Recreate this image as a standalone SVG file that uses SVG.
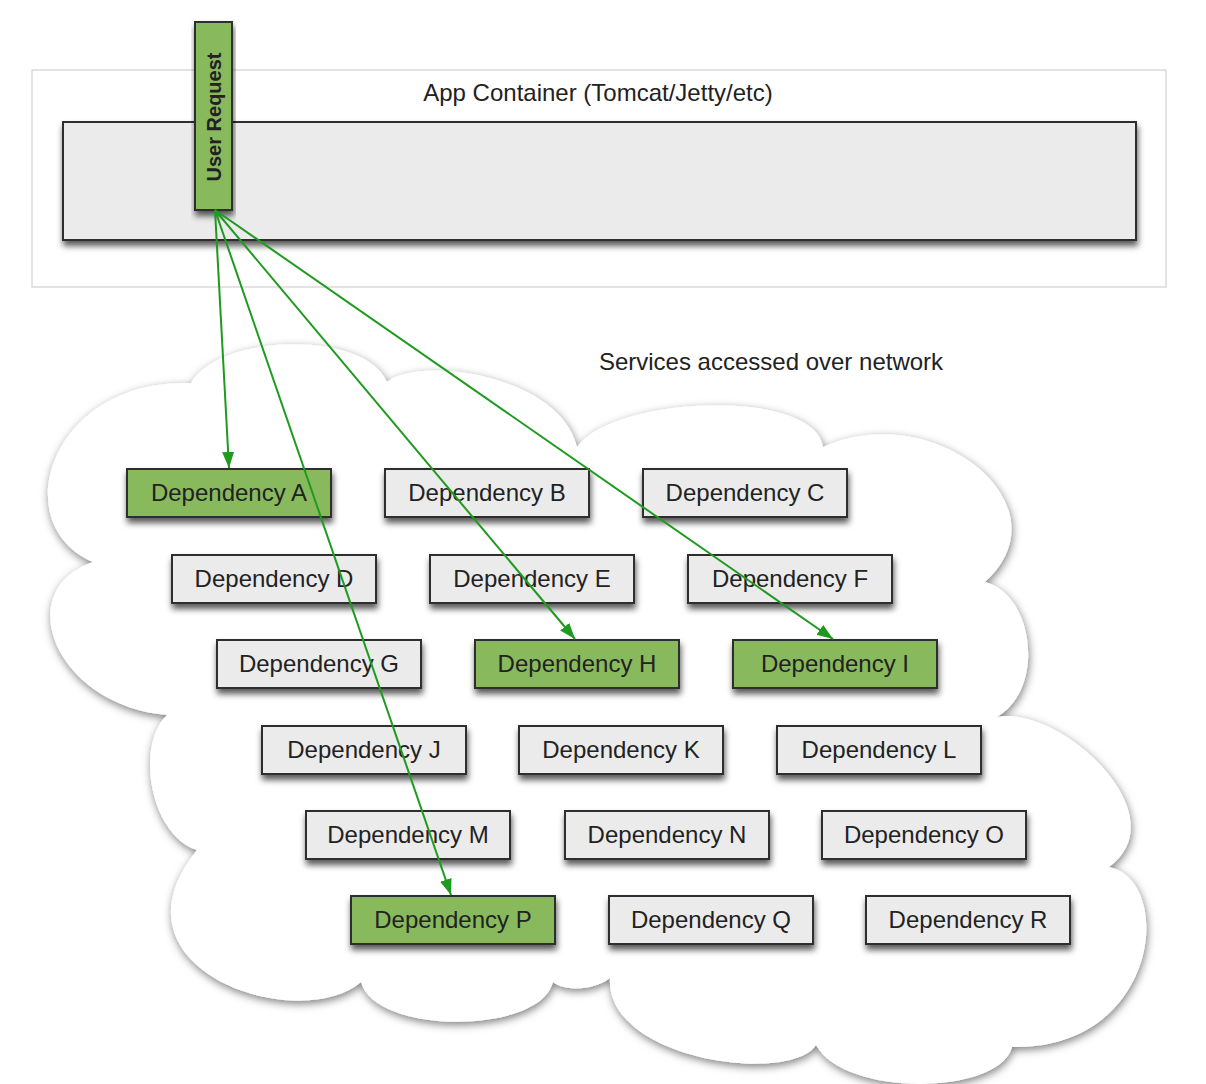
<svg xmlns="http://www.w3.org/2000/svg" width="1206" height="1084" viewBox="0 0 1206 1084">
<defs>
<style>
.lbl{font-family:"Liberation Sans",Arial,sans-serif;font-size:24px;fill:#222;}
.dep{fill:#ebebeb;stroke:#2e2e2e;stroke-width:2;filter:url(#sh);}
.hot{fill:#88b95d;stroke:#2e2e2e;stroke-width:2;filter:url(#sh);}
.dt{font-family:"Liberation Sans",Arial,sans-serif;font-size:24px;fill:#222;text-anchor:middle;}
.con{stroke:#1e9b1e;stroke-width:2;fill:none;marker-end:url(#ah);}
</style>
<filter id="sh" x="-10%" y="-30%" width="120%" height="180%">
<feDropShadow dx="1" dy="5" stdDeviation="3" flood-color="#000" flood-opacity="0.65"/>
</filter>
<filter id="csh" x="-10%" y="-10%" width="120%" height="120%">
<feDropShadow dx="1" dy="3" stdDeviation="4.5" flood-color="#000" flood-opacity="0.5"/>
</filter>
<marker id="ah" markerUnits="userSpaceOnUse" markerWidth="18" markerHeight="14" refX="16" refY="7" orient="auto">
<path d="M0,1 L16,7 L0,13 Z" fill="#1e9b1e"/>
</marker>
</defs>
<rect width="1206" height="1084" fill="#fff"/>

<g id="app-container">
<rect x="32" y="70" width="1134" height="217" fill="#fff" stroke="#dadada" stroke-width="1.5"/>
<text class="lbl" x="598" y="101" text-anchor="middle">App Container (Tomcat/Jetty/etc)</text>
</g>
<g id="container-body">
<rect x="63" y="122" width="1073" height="118" fill="#ebebeb" stroke="#2e2e2e" stroke-width="2" filter="url(#sh)"/>
</g>
<g id="user-request">
<rect x="195" y="22" width="37" height="188" class="hot"/>
<text transform="translate(221,117) rotate(-90)" text-anchor="middle" font-family="Liberation Sans, Arial, sans-serif" font-size="20" font-weight="bold" fill="#222">User Request</text>
</g>

<g id="network-cloud">
<path filter="url(#csh)" fill="#fff" d="M 191 383 C 220 333 365 330 387 382 C 420 355 560 375 577 447 C 615 395 815 388 823 447 C 933 397 1070 505 985 582 C 1035 595 1045 690 997 717 C 1060 705 1180 815 1109 867 C 1175 880 1160 1050 1012 1047 C 1000 1095 845 1098 816 1045 C 790 1085 605 1060 610 978 C 595 990 565 992 553 982 C 540 1035 375 1035 361 982 C 300 1035 100 970 197 850 C 150 835 135 745 167 715 C 55 705 10 590 93 562 C 5 525 50 378 191 383 Z"/>
<text class="lbl" x="771" y="370" text-anchor="middle">Services accessed over network</text>
</g>

<g id="dep-a"><rect class="hot" x="127" y="469" width="204" height="48"/><text class="dt" x="229" y="501">Dependency A</text></g>
<g id="dep-b"><rect class="dep" x="385" y="469" width="204" height="48"/><text class="dt" x="487" y="501">Dependency B</text></g>
<g id="dep-c"><rect class="dep" x="643" y="469" width="204" height="48"/><text class="dt" x="745" y="501">Dependency C</text></g>

<g id="dep-d"><rect class="dep" x="172" y="555" width="204" height="48"/><text class="dt" x="274" y="587">Dependency D</text></g>
<g id="dep-e"><rect class="dep" x="430" y="555" width="204" height="48"/><text class="dt" x="532" y="587">Dependency E</text></g>
<g id="dep-f"><rect class="dep" x="688" y="555" width="204" height="48"/><text class="dt" x="790" y="587">Dependency F</text></g>

<g id="dep-g"><rect class="dep" x="217" y="640" width="204" height="48"/><text class="dt" x="319" y="672">Dependency G</text></g>
<g id="dep-h"><rect class="hot" x="475" y="640" width="204" height="48"/><text class="dt" x="577" y="672">Dependency H</text></g>
<g id="dep-i"><rect class="hot" x="733" y="640" width="204" height="48"/><text class="dt" x="835" y="672">Dependency I</text></g>

<g id="dep-j"><rect class="dep" x="262" y="726" width="204" height="48"/><text class="dt" x="364" y="758">Dependency J</text></g>
<g id="dep-k"><rect class="dep" x="519" y="726" width="204" height="48"/><text class="dt" x="621" y="758">Dependency K</text></g>
<g id="dep-l"><rect class="dep" x="777" y="726" width="204" height="48"/><text class="dt" x="879" y="758">Dependency L</text></g>

<g id="dep-m"><rect class="dep" x="306" y="811" width="204" height="48"/><text class="dt" x="408" y="843">Dependency M</text></g>
<g id="dep-n"><rect class="dep" x="565" y="811" width="204" height="48"/><text class="dt" x="667" y="843">Dependency N</text></g>
<g id="dep-o"><rect class="dep" x="822" y="811" width="204" height="48"/><text class="dt" x="924" y="843">Dependency O</text></g>

<g id="dep-p"><rect class="hot" x="351" y="896" width="204" height="48"/><text class="dt" x="453" y="928">Dependency P</text></g>
<g id="dep-q"><rect class="dep" x="609" y="896" width="204" height="48"/><text class="dt" x="711" y="928">Dependency Q</text></g>
<g id="dep-r"><rect class="dep" x="866" y="896" width="204" height="48"/><text class="dt" x="968" y="928">Dependency R</text></g>

<g id="connectors">
<line class="con" x1="215" y1="210" x2="229" y2="468"/>
<line class="con" x1="215" y1="210" x2="451" y2="895"/>
<line class="con" x1="215" y1="210" x2="575" y2="639"/>
<line class="con" x1="215" y1="210" x2="833" y2="639"/>
</g>
</svg>
